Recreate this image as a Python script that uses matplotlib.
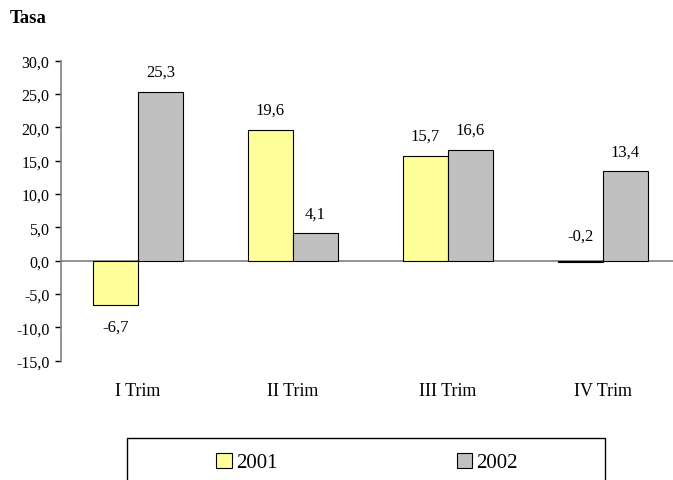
import matplotlib
matplotlib.use('Agg')
import matplotlib.pyplot as plt
from matplotlib.patches import Rectangle
from matplotlib.ticker import FuncFormatter
import numpy as np

plt.rcParams['font.family'] = ['Liberation Serif', 'DejaVu Serif']

#data
categories = ['I Trim', 'II Trim', 'III Trim', 'IV Trim']
years = ['2001', '2002']
vals2001 = [-6.7, 19.6, 15.7, -0.2]
vals2002 = [25.3, 4.1, 16.6, 13.4]
yticks = [-15, -10, -5, 0, 5, 10, 15, 20, 25, 30]

colYellow = '#FFFF99'
colGray = '#C0C0C0'

fig = plt.figure(figsize=(6.73, 4.81), dpi=100)
ax = fig.add_axes([60.5/673, (481-361.7)/481, 620/673, 300/481])

x = np.arange(len(categories))
w = 0.29
b1 = ax.bar(x - w/2, vals2001, w, color=colYellow, edgecolor='black', linewidth=0.8, label=years[0], zorder=3)
b2 = ax.bar(x + w/2, vals2002, w, color=colGray, edgecolor='black', linewidth=0.8, label=years[1], zorder=3)

ax.set_xlim(-0.5, 3.5)
ax.set_ylim(-15, 30)
ax.axhline(0, color='#808080', linewidth=1.2, zorder=2)

for s in ['top', 'right', 'bottom']:
	ax.spines[s].set_visible(False)
ax.spines['left'].set_color('#808080')
ax.spines['left'].set_linewidth(1.2)

ax.set_yticks(yticks)
ax.yaxis.set_major_formatter(FuncFormatter(lambda v, p: ('%.1f' % v).replace('.', ',')))
ax.tick_params(axis='y', length=4, width=1, color='black', labelsize=11.5, pad=4)
ax.set_xticks(x)
ax.set_xticklabels(categories)
ax.tick_params(axis='x', length=0, labelsize=13, pad=15)

#value labels
def lab(bars, vals):
	for r, v in zip(bars, vals):
		cx = r.get_x() + r.get_width()/2
		if v < -1:
			ax.annotate(('%.1f' % v).replace('.', ','), (cx, v), xytext=(0, -15), textcoords='offset points', ha='center', va='center', fontsize=12)
		else:
			ax.annotate(('%.1f' % v).replace('.', ','), (cx, max(v, 0)), xytext=(0, 14.5 if v > 0 else 18), textcoords='offset points', ha='center', va='center', fontsize=12)

lab(b1, vals2001)
lab(b2, vals2002)

fig.text(10/673, 1 - 18.5/481, 'Tasa', fontweight='bold', fontsize=13.5, va='center', ha='left')

#legend box
fig.patches.append(Rectangle((127/673, -0.05), 478/673, 0.05 + (481-439)/481, transform=fig.transFigure, fill=False, edgecolor='black', linewidth=1))
fig.legend(handles=[b1, b2], labels=years, loc='center', bbox_to_anchor=(367/673, 1 - 463.5/481), ncol=2, frameon=False, fontsize=15, handlelength=0.75, handleheight=0.75, handletextpad=0.2, columnspacing=8.6, borderpad=0)

plt.savefig('out.png', dpi=100)
